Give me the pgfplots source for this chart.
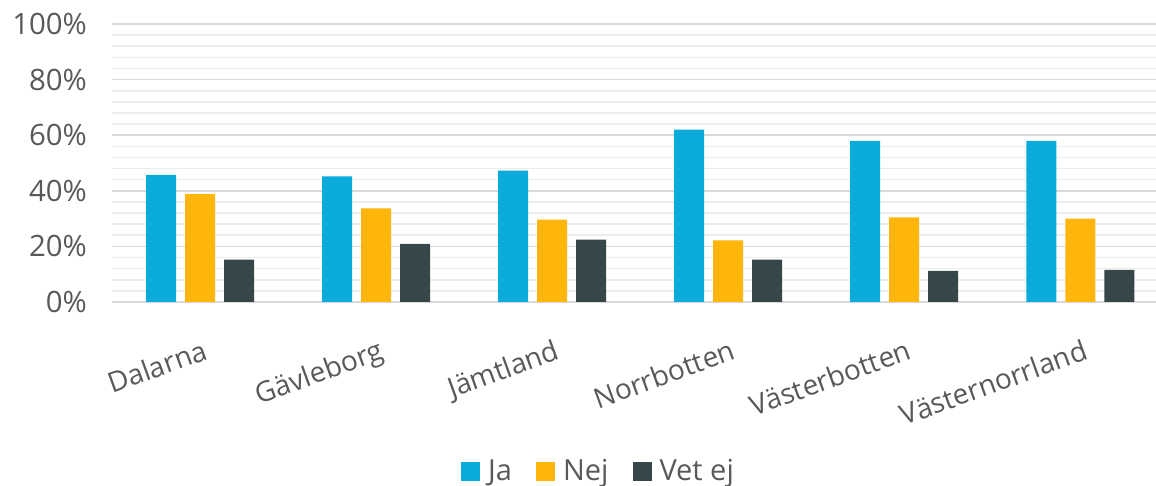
\documentclass[border=0pt]{standalone}
\usepackage{fontspec}
\setmainfont{Open Sans}
\usepackage{pgfplots}
\pgfplotsset{compat=1.18}
\usetikzlibrary{calc}

\definecolor{ja}{HTML}{0AABDA}
\definecolor{nej}{HTML}{FFB50A}
\definecolor{vetej}{HTML}{374649}
\definecolor{txt}{HTML}{595959}
\definecolor{majgrid}{HTML}{D9D9D9}
\definecolor{mingrid}{HTML}{EDEDED}

\pgfplotstableread{
x  ja   nej  vetej
0  45.7 38.8 15.2
1  45.2 33.7 20.9
2  47.3 29.6 22.4
3  62.0 22.2 15.2
4  58.0 30.4 11.2
5  58.0 30.0 11.6
}\datatable

\begin{document}
\begin{tikzpicture}
\begin{axis}[
    scale only axis,
    width=522pt,
    height=139pt,
    ybar=4.5pt,
    bar width=15pt,
    xmin=-0.5, xmax=5.43,
    ymin=0, ymax=100,
    xtick=data,
    xticklabels={Dalarna,Gävleborg,Jämtland,Norrbotten,Västerbotten,Västernorrland},
    ytick={0,20,40,60,80,100},
    minor y tick num=4,
    yticklabel={\pgfmathprintnumber{\tick}\%},
    /pgf/number format/assume math mode=true,
    major tick length=0pt,
    minor tick length=0pt,
    axis line style={draw=none},
    ymajorgrids, yminorgrids,
    major grid style={draw=majgrid, line width=0.8pt},
    minor grid style={draw=mingrid, line width=0.8pt},
    tick label style={text=txt},
    yticklabel style={font=\fontsize{14.7}{17}\selectfont, xshift=-9pt},
    xticklabel style={font=\fontsize{14}{16}\selectfont, rotate=20, anchor=north east, yshift=-14pt, xshift=-2pt},
    legend columns=-1,
    legend style={draw=none, at={(0.467,-0.61)}, anchor=center,
        font=\fontsize{14.5}{16}\selectfont, text=txt,
        /tikz/every odd column/.append style={column sep=2pt},
        /tikz/every even column/.append style={column sep=10pt}},
    legend image code/.code={\fill[#1] (0pt,-4.75pt) rectangle (9.5pt,4.75pt);},
    clip=false,
]
\addplot[fill=ja, draw=none] table[x=x, y=ja] {\datatable};
\addlegendentry{Ja}
\addplot[fill=nej, draw=none] table[x=x, y=nej] {\datatable};
\addlegendentry{Nej}
\addplot[fill=vetej, draw=none] table[x=x, y=vetej] {\datatable};
\addlegendentry{Vet ej}
\end{axis}
\pgfresetboundingbox
\path[use as bounding box] ($(current axis.south west)+(-56pt,-92pt)$) rectangle ($(current axis.north east)+(0pt,12pt)$);
\end{tikzpicture}
\end{document}
